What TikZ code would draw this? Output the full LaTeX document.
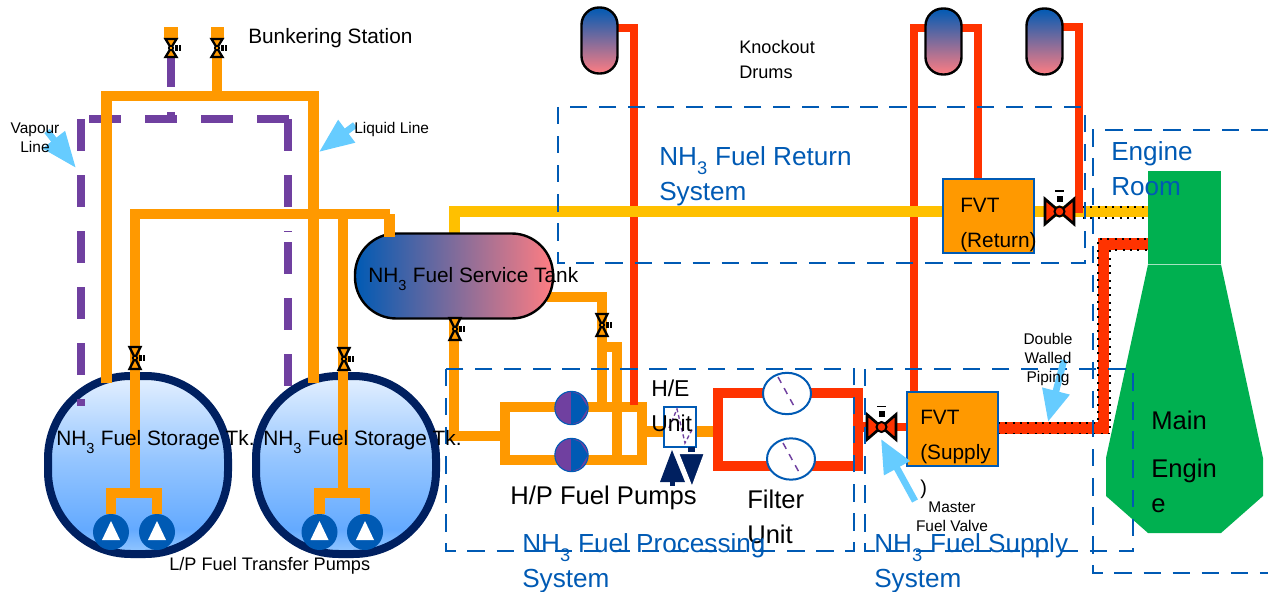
\documentclass[tikz,border=0pt]{standalone}
\usepackage{fontspec}
\setmainfont{Liberation Sans}
\usepackage{xcolor}
\definecolor{fuel-orange}{RGB}{255,153,0}
\definecolor{fuel-gold}{RGB}{255,192,0}
\definecolor{fuel-red}{RGB}{255,51,0}
\definecolor{vapour-purple}{RGB}{112,64,160}
\definecolor{sys-blue}{RGB}{0,90,180}
\definecolor{tank-navy}{RGB}{0,32,96}
\definecolor{tank-pink}{RGB}{255,125,130}
\definecolor{tank-top}{RGB}{228,240,255}
\definecolor{tank-mid}{RGB}{150,198,255}
\definecolor{tank-low}{RGB}{100,170,255}
\definecolor{tank-base}{RGB}{150,200,255}
\definecolor{callout-blue}{RGB}{102,204,255}
\definecolor{engine-green}{RGB}{0,176,80}
\usepackage{tikz}
\usetikzlibrary{positioning,arrows.meta,shapes.geometric,shadows,calc}
\pgfdeclareverticalshading{tankfill}{100bp}{
  color(0bp)=(tank-base);
  color(25bp)=(tank-base);
  color(32bp)=(tank-low);
  color(52bp)=(tank-mid);
  color(75bp)=(tank-top);
  color(100bp)=(tank-top)}
\newcommand{\nhthree}{NH\raisebox{-0.35ex}{\textsubscript{3}}}

\begin{document}
\begin{tikzpicture}[
  x=0.75pt, y=-0.75pt,
  liquid/.style={line width=7.9pt, draw=fuel-orange},
  returnline/.style={line width=7.9pt, draw=fuel-gold},
  redline/.style={line width=6pt, draw=fuel-red},
  redthick/.style={line width=8pt, draw=fuel-red},
  vapour/.style={line width=6pt, draw=vapour-purple},
  vapourdash/.style={vapour, dash pattern=on 24pt off 18pt},
  sysbox/.style={line width=2.1pt, draw=sys-blue, dash pattern=on 13pt off 8.8pt},
  wall/.style={line width=1pt, black, dash pattern=on 1.5pt off 4pt},
  callout/.style={line width=5pt, draw=callout-blue, fill=callout-blue},
  tag/.style={anchor=west, inner sep=0pt, align=left},
  bigtext/.style={tag, font=\fontsize{15.6}{26.25}\selectfont},
  largetext/.style={tag, font=\fontsize{19.2}{26.25}\selectfont},
  midtext/.style={tag, font=\fontsize{13.6}{18.75}\selectfont},
  smalltext/.style={inner sep=0pt, align=center, font=\fontsize{11.6}{14.25}\selectfont},
  systext/.style={tag, text=sys-blue, font=\fontsize{19.6}{26.25}\selectfont},
  storage/.style={rectangle, rounded corners=62pt, minimum width=135pt, minimum height=133.5pt,
    line width=6pt, draw=tank-navy, shading=tankfill,
    drop shadow={shadow xshift=0pt, shadow yshift=-3pt, opacity=0.2}},
  drum/.style={rectangle, rounded corners=13pt, minimum width=27pt, minimum height=49.5pt,
    line width=1.8pt, draw=black, top color=sys-blue, bottom color=tank-pink},
  fvt/.style={rectangle, minimum width=68pt, minimum height=55.5pt, line width=1.9pt,
    draw=sys-blue, fill=fuel-orange},
  filterdisc/.style={ellipse, minimum width=36pt, minimum height=31pt, inner sep=0pt,
    line width=1.5pt, draw=sys-blue, fill=white},
  lppump/.style={circle, minimum size=27pt, inner sep=0pt, fill=sys-blue},
  hppump/.style={circle, minimum size=25pt, inner sep=0pt, line width=0.8pt, draw=sys-blue, fill=vapour-purple}
]
\useasboundingbox (0,0) rectangle (1268,592);

% Engine
\node[rectangle, fill=engine-green, inner sep=0pt, minimum width=54.75pt, minimum height=69.5pt] (engTop) at (1184.5,217.5) {};
\fill[engine-green] (1148,264.5) -- (1221,264.5) -- (1263,458) -- (1263,496) -- (1221,533) -- (1148,533) -- (1106,496) -- (1106,458) -- cycle;

% Storage tanks
\node[storage] (tankA) at (138,465) {};
\node[storage] (tankB) at (346,465) {};

% L/P pumps
\foreach \px/\pname in {111/lpA,157/lpB,319.5/lpC,365/lpD}{
  \node[lppump] (\pname) at (\px,532) {};
  \fill[white] (\px-9,540) -- (\px+9,540) -- (\px,521) -- cycle;
}

% Vapour line
\draw[vapour] (171,57) -- (171,87);
\draw[vapour] (171,112) -- (171,119);
\draw[vapourdash] (89,119) -- (289,119);
\draw[vapourdash] (80.5,119) -- (80.5,406);
\draw[vapourdash] (288,119) -- (288,232);
\draw[vapourdash] (288,242) -- (288,386);

% Liquid line
\fill[fuel-orange] (164,27) rectangle (178,39);
\fill[fuel-orange] (211,27) rectangle (224,39);
\draw[liquid] (217,57) -- (217,96);
\draw[liquid] (106.5,383) -- (106.5,96) -- (313.5,96) -- (313.5,383);
\draw[liquid] (135,493) -- (135,214) -- (389.5,214);
\draw[liquid] (343,214) -- (343,493);
\draw[liquid] (lpA.north) |- (135,493) -| (lpB.north);
\draw[liquid] (lpC.north) |- (343,493) -| (lpD.north);

% Return line
\coordinate (valveR) at (1059.5,211.5);
\draw[returnline] (454.5,240) |- (valveR) -- (valveR -| engTop.west);
\draw[wall] (1083,207) -- (1148,207);
\draw[wall] (1083,218) -- (1148,218);

% Service tank and H/P loop
\draw[liquid] (547,297) -| (602,407);
\draw[liquid] (602,347) -| (617,460);
\node[rectangle, rounded corners=31pt, minimum width=148.5pt, minimum height=63.75pt,
  line width=1.8pt, draw=black, left color=sys-blue, right color=tank-pink] (tankS) at (454,276) {};
\draw[liquid] (389.5,214) -- (389.5,237);
\draw[liquid] (tankS.south) |- (505,436);
\draw[liquid] (505,407) rectangle (642,460);
\foreach \py/\pname in {408/hpA,455/hpB}{
  \node[hppump] (\pname) at (571.5,\py) {};
  \fill[sys-blue] (571,\py-16.5) -- (580,\py-13) -- (588,\py) -- (580,\py+13) -- (571,\py+16.5) -- cycle;
}
\coordinate (hxIn) at (642,431.5);
\draw[liquid] (hxIn) -- (718,431.5);

% Red lines to drums
\draw[redline] (618,28.5) -| (634,405);
\draw[redline] (925,28) -| (914,392);
\draw[redline] (962,28) -| (977.5,179);
\draw[redline] (1063,27) -| (1079,213);
\draw[returnline] (625,211.5) -- (645,211.5);
\draw[returnline] (905,211.5) -- (925,211.5);

\node[drum] (drumA) at (599.5,40.5) {};
\node[drum] (drumB) at (943.5,41.5) {};
\node[drum] (drumC) at (1044.5,41.5) {};

% Filter loop
\coordinate (valveS) at (881.5,427);
\draw[redthick] (718,393) rectangle (858,466);
\draw[redthick] (858,427) -- (valveS);
\node[filterdisc] (filterA) at (787,393.5) {};
\node[filterdisc] (filterB) at (791,459) {};
\draw[line width=1.1pt, vapour-purple, dash pattern=on 5pt off 4.5pt] (778,377) -- (795,408);
\draw[line width=1.1pt, vapour-purple, dash pattern=on 5pt off 4.5pt] (783,443) -- (800,474);

% Supply to engine
\draw[redline] (valveS) -- (907,427);
\draw[line width=8.5pt, draw=fuel-red] (998,428) -| (1103.5,244) -- (1148,244);
\draw[wall] (998,433.5) -| (1110,250) -- (1148,250);
\draw[wall] (998,423) -| (1098,239) -- (1148,239);

% H/E unit
\node[rectangle, minimum width=24pt, minimum height=30pt, inner sep=0pt, line width=1.6pt, draw=sys-blue, fill=white] (heUnit) at (680,427) {};
\draw[line width=1pt, vapour-purple, dash pattern=on 3pt off 2pt] (669,428) -- (677,409) -- (685,443) -- (693,428);
\fill[tank-navy] (660,482) -- (672,450) -- (685,482) -- cycle;
\fill[tank-navy] (670,482) rectangle (675,486);
\fill[tank-navy] (688,447) rectangle (695,454);
\draw[white, line width=1.5pt, fill=tank-navy] (678,453) -- (705,453) -- (692,488) -- cycle;

% FVT boxes
\node[fvt] (fvtR) at (988.5,216) {};
\node[fvt] (fvtS) at (952.5,429) {};

% Hand valves
\foreach \vx/\vy/\vh in {171/48/9,217/48/9,135/358/11,344/359/11,455/329/11,602/325/11}{
  \begin{scope}[shift={(\vx,\vy)}]
    \draw[line width=1.7pt, draw=black, fill=fuel-orange, line join=miter] (-5.5,-\vh) -- (5.5,-\vh) -- (-5.5,\vh) -- (5.5,\vh) -- cycle;
    \draw[line width=1.2pt, draw=black, fill=fuel-orange] (0,0) circle (2.2);
    \fill[black] (4,-3) rectangle (7,3);
    \fill[black] (8,-3) rectangle (9.5,3);
  \end{scope}
}

% Master valves
\foreach \vx/\vy in {1059.5/211.5,881.5/427}{
  \begin{scope}[shift={(\vx,\vy)}]
    \draw[line width=2pt, draw=black, fill=fuel-red, line join=miter] (-14.5,-12.5) -- (14.5,12.5) -- (14.5,-12.5) -- (-14.5,12.5) -- cycle;
    \draw[line width=1.5pt, draw=black, fill=fuel-red] (0,0) circle (5);
    \fill[black] (-3,-16) rectangle (3,-10);
    \fill[black] (-4.5,-21.5) rectangle (4.5,-20);
  \end{scope}
}

% System boxes
\draw[sysbox] (558,107) rectangle (1085,263);
\draw[sysbox] (446,369) rectangle (854,551);
\draw[sysbox] (865,369) rectangle (1133,551);
\draw[sysbox] (1268,130) -- (1093,130) -- (1093,573) -- (1268,573);

% Callouts
\draw[callout, -{Triangle[length=27pt,width=20pt]}] (47,131) -- (76,168);
\draw[callout, -{Triangle[length=26pt,width=20pt]}] (355,125) -- (319,152);
\draw[callout, -{Triangle[length=24pt,width=20pt]}] (1064,360) -- (1048,422);
\draw[callout, -{Triangle[length=25pt,width=21pt]}] (915,501) -- (881,439);

% Labels
\node[bigtext] (bunkerLbl) at (248,38) {Bunkering Station};
\node[smalltext] (vapourLbl) at (35,138) {Vapour\\Line};
\node[smalltext, anchor=west] (liquidLbl) at (354,130) {Liquid Line};
\node[bigtext] (storageLblA) at (56,442) {\nhthree{} Fuel Storage Tk.};
\node[bigtext] (storageLblB) at (263,442) {\nhthree{} Fuel Storage Tk.};
\node[midtext, anchor=west] (lpLbl) at (169,566) {L/P Fuel Transfer Pumps};
\node[bigtext] (serviceLbl) at (368,279) {\nhthree{} Fuel Service Tank};
\node[midtext] (drumLbl) at (739,60) {Knockout\\Drums};
\node[largetext] (hpLbl) at (510,498) {H/P Fuel Pumps};
\node[largetext, font=\fontsize{17.2}{26.25}\selectfont] (heLbl) at (651,406) {H/E\\Unit};
\node[largetext] (filterLbl) at (747,517) {Filter\\Unit};
\node[bigtext] (fvtLblR) at (960,225) {FVT\\(Return)};
\node[bigtext] (fvtLblS) at (920,437) {FVT\\(Supply};
\node[tag, font=\fontsize{15}{18}\selectfont] (parenLbl) at (920,489) {)};
\node[smalltext] (masterLbl) at (952,517) {Master\\Fuel Valve};
\node[smalltext] (wallLbl) at (1048,359) {Double\\Walled\\Piping};
\node[systext] (returnLbl) at (659,176) {\nhthree{} Fuel Return\\System};
\node[systext] (engineRoomLbl) at (1111,169) {Engine\\Room};
\node[systext] (processLbl) at (522,563) {\nhthree{} Fuel Processing\\System};
\node[systext] (supplyLbl) at (874,563) {\nhthree{} Fuel Supply\\System};
\node[largetext] (mainLbl) at (1151,420) {Main};
\node[largetext] (engineLbl) at (1151,486) {Engin\\e};

\end{tikzpicture}
\end{document}
